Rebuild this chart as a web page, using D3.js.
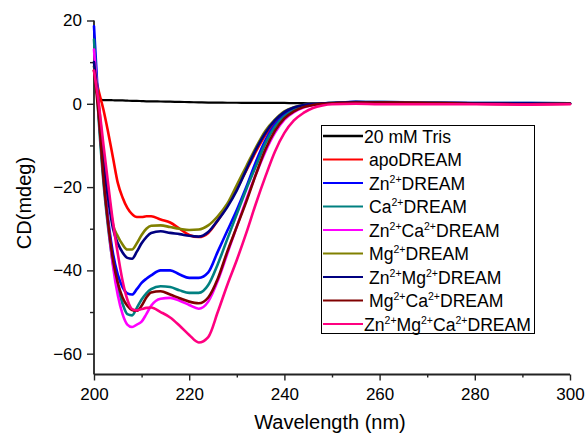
<!DOCTYPE html>
<html>
<head>
<meta charset="utf-8">
<script src="https://cdn.jsdelivr.net/npm/d3@7"></script>
<style>
  html, body { margin: 0; padding: 0; background: #fff; }
  svg { display: block; }
  text { font-family: "Liberation Sans", Arial, sans-serif; fill: #000; }
</style>
</head>
<body>
<svg id="chart" width="585" height="435"></svg>
<script>
// ---- data ----
const wavelengths = [200,201,202,203,204,205,206,207,208,209,210,211,212,214,216,218,220,222,224,226,228,230,232,234,236,238,240,242,244,246,248,250,255,260,270,280,290,300];

const tris      = [9,1.0,0.9,0.9,0.85,0.8,0.8,0.75,0.7,0.7,0.65,0.6,0.6,0.55,0.5,0.45,0.4,0.35,0.3,0.3,0.25,0.25,0.2,0.2,0.2,0.2,0.2,0.15,0.15,0.1,0.1,0.1,0.1,0.1,0.05,0.05,0,0];
const apo       = [8,3,-1.5,-7,-13,-19,-22.5,-25,-26.5,-27.2,-27.2,-27,-27,-27.8,-28.5,-30,-31.5,-32,-31,-28,-24.5,-20.5,-16,-11.5,-7.5,-4.5,-2.5,-1.2,-0.5,-0.2,0,0.1,0.3,0.3,0.2,0.1,0.1,0];
const zn        = [18.6,-2,-17,-28,-36,-41,-44,-45.5,-45.8,-44.5,-43,-42,-41.2,-40,-40,-41,-41.8,-41.8,-40.5,-35.5,-30.5,-25.5,-20,-14,-8.8,-5,-2.7,-1.3,-0.5,-0.1,0.1,0.2,0.5,0.4,0.3,0.2,0.2,0.1];
const ca        = [15.4,-4,-19,-30,-38.5,-44,-48,-50.5,-50.8,-49,-47,-45.5,-44.5,-43.8,-44,-44.8,-45.4,-45.4,-43.5,-38.5,-32.5,-26.5,-20.5,-15,-9.5,-5.5,-3,-1.5,-0.6,-0.1,0.1,0.2,0.4,0.4,0.3,0.2,0.2,0.1];
const znCa      = [13,-2,-17,-29,-39,-46,-50.5,-53,-53.6,-53,-52.3,-50.5,-48.5,-46.8,-46.6,-47.3,-48.3,-49.2,-47.5,-42.5,-36,-29.5,-23,-17,-11.5,-7,-3.8,-2,-0.9,-0.3,0,0.1,0.3,0.3,0.2,0.1,0,0];
const mg        = [9,0,-12,-21,-29,-31.8,-33.8,-35,-35,-33.5,-31.5,-30,-29.3,-29.2,-29.6,-30,-30.3,-30.2,-29.2,-27,-24,-19.5,-15,-10.5,-6.5,-3.8,-1.8,-0.8,-0.3,0,0.1,0.2,0.3,0.3,0.2,0.1,0.1,0];
const znMg      = [10,-1,-14,-23,-30,-33.5,-35.7,-37,-37.2,-35.5,-33.5,-32,-31,-30.6,-31,-31.3,-31.7,-31.9,-30.8,-28,-24.8,-20.8,-15.8,-11,-7,-4,-2,-0.9,-0.3,0,0.1,0.2,0.4,0.3,0.2,0.1,0.1,0];
const mgCa      = [8,-3,-18,-29,-37.5,-43,-46.5,-48.5,-49.5,-49.7,-48.5,-46.5,-45.3,-45,-45.8,-46.7,-47.5,-47.9,-46.5,-42,-35.5,-29.5,-23.5,-17,-11,-6.5,-3.5,-1.8,-0.8,-0.3,0,0.1,0.3,0.3,0.2,0,-0.1,0];
const znMgCa    = [8,0,-10,-19.5,-28.5,-36,-42.5,-47,-49.3,-49.6,-49.3,-49,-48.9,-50,-51.3,-53.3,-55.5,-57.3,-56,-50,-43.5,-37.5,-31,-24,-17.5,-11.5,-7,-4,-2.2,-1,-0.4,-0.1,0,-0.1,-0.1,-0.1,-0.2,-0.1];

const seriesLabels = ["20 mM Tris","apoDREAM","Zn2+DREAM","Ca2+DREAM","Zn2+Ca2+DREAM","Mg2+DREAM","Zn2+Mg2+DREAM","Mg2+Ca2+DREAM","Zn2+Mg2+Ca2+DREAM"];
const seriesValues = [tris, apo, zn, ca, znCa, mg, znMg, mgCa, znMgCa];
const seriesColors = ["#000000","#ff0000","#0000ff","#008080","#ff00ff","#808000","#000080","#800000","#ff0080"];

const xTicks = [200,220,240,260,280,300];
const yTicks = [-60,-40,-20,0,20];
const xMinorTicks = [210,230,250,270,290];
const yMinorTicks = [-50,-30,-10,10];

// ---- layout ----
const svg = d3.select("#chart");
const x = d3.scaleLinear().domain([200,300]).range([94,570]);
const y = d3.scaleLinear().domain([-65,20]).range([374.5,20.5]);

// axes
const axisColor = "#222";
const gx = svg.append("g").attr("transform", `translate(0,${y(-65)})`)
  .call(d3.axisBottom(x).tickValues(xTicks).tickSize(6).tickPadding(7).tickFormat(d3.format("d")));
const gxm = svg.append("g").attr("transform", `translate(0,${y(-65)})`)
  .call(d3.axisBottom(x).tickValues(xMinorTicks).tickSize(3).tickFormat(""));
const gy = svg.append("g").attr("transform", `translate(${x(200)},0)`)
  .call(d3.axisLeft(y).tickValues(yTicks).tickSize(7).tickPadding(5).tickFormat(d3.format("d")));
const gym = svg.append("g").attr("transform", `translate(${x(200)},0)`)
  .call(d3.axisLeft(y).tickValues(yMinorTicks).tickSize(4).tickFormat(""));

[gx,gxm,gy,gym].forEach(g => {
  g.select(".domain").attr("stroke", axisColor).attr("stroke-width", 1.8);
  g.selectAll(".tick line").attr("stroke", axisColor).attr("stroke-width", 1.4);
  g.selectAll(".tick text").attr("font-size", 17).attr("font-family", "Liberation Sans, Arial, sans-serif").attr("fill", "#000");
});
gxm.select(".domain").remove();
gym.select(".domain").remove();
gx.selectAll(".domain").attr("d", `M${x(200)},0H${x(300)}`);
gy.selectAll(".domain").attr("d", `M0,${y(20)}V${y(-65)}`);

// axis titles
svg.append("text").attr("x", 330).attr("y", 429).attr("text-anchor", "middle")
  .attr("font-size", 20).text("Wavelength (nm)");
svg.append("text").attr("transform", `translate(31,203) rotate(-90)`).attr("text-anchor", "middle")
  .attr("font-size", 20).text("CD(mdeg)");

// lines
const line = d3.line()
  .x((d,i) => x(wavelengths[i]))
  .y(d => y(d))
  .curve(d3.curveMonotoneX);

svg.append("g").selectAll("path").data(seriesValues).join("path")
  .attr("d", d => line(d))
  .attr("fill", "none")
  .attr("stroke", (d,i) => seriesColors[i])
  .attr("stroke-width", (d,i) => i === 0 ? 2.2 : 2.6)
  .attr("stroke-linejoin", "round")
  .attr("stroke-linecap", "round");

// legend
const legend = svg.append("g");
legend.append("rect").attr("x", 321.5).attr("y", 125.5).attr("width", 213).attr("height", 208)
  .attr("fill", "#fff").attr("stroke", "#000").attr("stroke-width", 1);

const rowY = i => 136 + i * 23.5;
seriesLabels.forEach((lab, i) => {
  legend.append("line").attr("x1", 323).attr("x2", 363)
    .attr("y1", rowY(i)).attr("y2", rowY(i))
    .attr("stroke", seriesColors[i]).attr("stroke-width", i === 0 ? 2.4 : 2.2);
  const tx = (i === 0 || i === seriesLabels.length - 1) ? 364 : 369;
  const t = legend.append("text").attr("x", tx).attr("y", rowY(i) + 6.5).attr("font-size", 17.6);
  const parts = lab.split(/(2\+)/).filter(p => p.length);
  let raised = false;
  parts.forEach(p => {
    if (p === "2+") {
      t.append("tspan").attr("font-size", 10.5).attr("dy", -7).text(p);
      raised = true;
    } else {
      t.append("tspan").attr("dy", raised ? 7 : 0).text(p);
      raised = false;
    }
  });
});
</script>
</body>
</html>
